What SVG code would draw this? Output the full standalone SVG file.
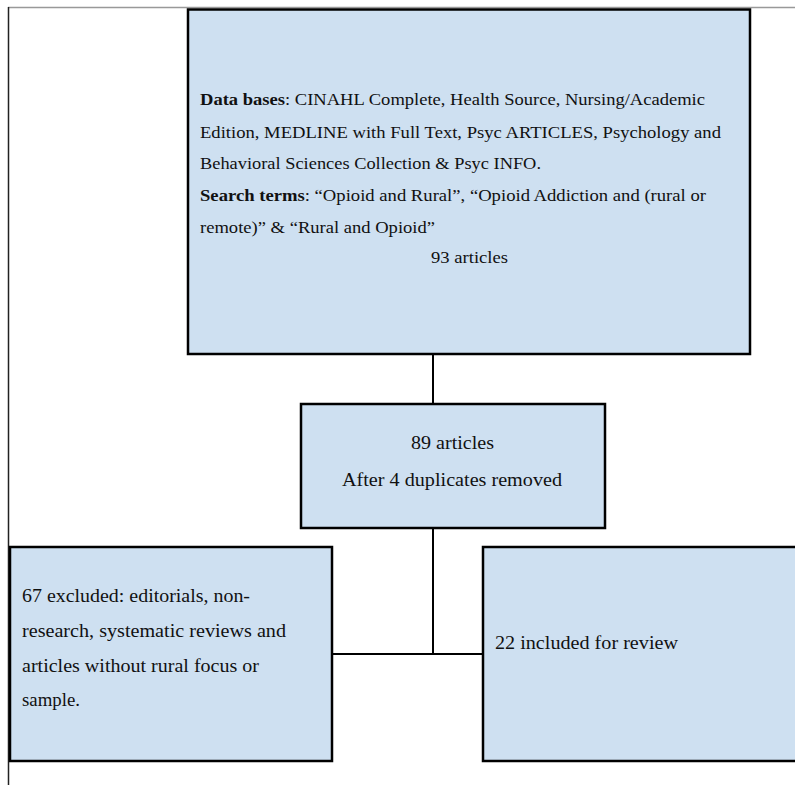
<svg xmlns="http://www.w3.org/2000/svg" width="795" height="785" viewBox="0 0 795 785">
<style>
.box{fill:#cee0f1;stroke:#000;stroke-width:2.5}
.t{font-family:"Liberation Serif","Times New Roman",serif;font-size:18px;fill:#111}
.s{font-size:17.5px}
.b{font-weight:bold}
.c{text-anchor:middle}
.ln{stroke:#000;stroke-width:2;fill:none}
</style>
<rect width="795" height="785" fill="#fff"/>
<g id="frame">
<line x1="8" y1="7.5" x2="795" y2="7.5" stroke="#999" stroke-width="1.5"/>
<line x1="8.5" y1="7" x2="8.5" y2="785" stroke="#222" stroke-width="1.5"/>
</g>
<g id="connectors">
<line class="ln" x1="433" y1="354" x2="433" y2="404"/>
<line class="ln" x1="433" y1="528" x2="433" y2="654"/>
<line class="ln" x1="332" y1="654" x2="483" y2="654"/>
</g>
<g id="search">
<rect class="box" x="188" y="9.5" width="562" height="344.5"/>
<text class="t s" x="200" y="105" textLength="505" lengthAdjust="spacingAndGlyphs"><tspan class="b">Data bases</tspan>: CINAHL Complete, Health Source, Nursing/Academic</text>
<text class="t s" x="200" y="138" textLength="521" lengthAdjust="spacingAndGlyphs">Edition, MEDLINE with Full Text, Psyc ARTICLES, Psychology and</text>
<text class="t s" x="200" y="169" textLength="341" lengthAdjust="spacingAndGlyphs">Behavioral Sciences Collection &amp; Psyc INFO.</text>
<text class="t s" x="200" y="201" textLength="506" lengthAdjust="spacingAndGlyphs"><tspan class="b">Search terms</tspan>: “Opioid and Rural”, “Opioid Addiction and (rural or</text>
<text class="t s" x="200" y="233" textLength="235" lengthAdjust="spacingAndGlyphs">remote)” &amp; “Rural and Opioid”</text>
<text class="t s" x="431" y="263" textLength="77" lengthAdjust="spacingAndGlyphs">93 articles</text>
</g>
<g id="dedup">
<rect class="box" x="301" y="404" width="304" height="124"/>
<text class="t" x="411" y="449" textLength="83" lengthAdjust="spacingAndGlyphs">89 articles</text>
<text class="t" x="342" y="486" textLength="220" lengthAdjust="spacingAndGlyphs">After 4 duplicates removed</text>
</g>
<g id="excluded">
<rect class="box" x="10" y="547" width="322" height="214"/>
<text class="t" x="22" y="602" textLength="228" lengthAdjust="spacingAndGlyphs">67 excluded: editorials, non-</text>
<text class="t" x="22" y="637" textLength="264" lengthAdjust="spacingAndGlyphs">research, systematic reviews and</text>
<text class="t" x="22" y="672" textLength="237" lengthAdjust="spacingAndGlyphs">articles without rural focus or</text>
<text class="t" x="22" y="706" textLength="58" lengthAdjust="spacingAndGlyphs">sample.</text>
</g>
<g id="included">
<rect class="box" x="483" y="547" width="330" height="214"/>
<text class="t" x="495" y="649" textLength="183" lengthAdjust="spacingAndGlyphs">22 included for review</text>
</g>
</svg>
